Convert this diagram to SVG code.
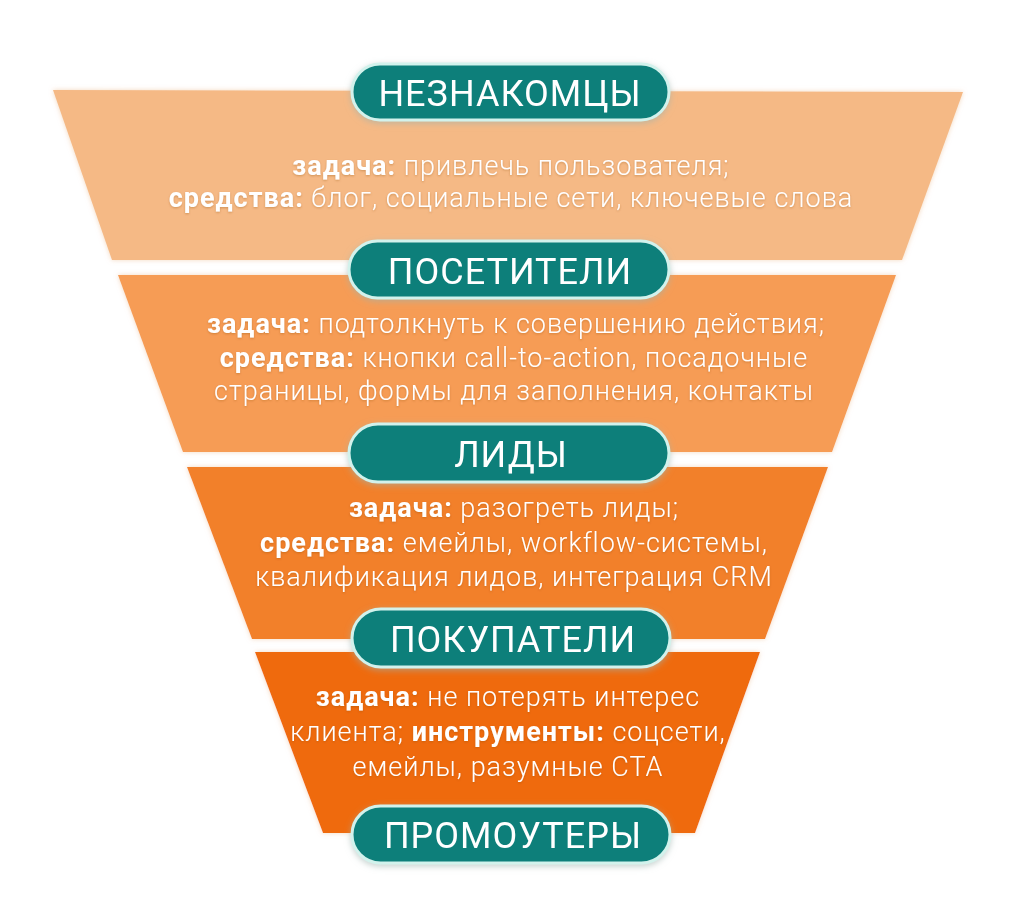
<svg xmlns="http://www.w3.org/2000/svg" width="1024" height="910" viewBox="0 0 1024 910">
<defs>
<style>
.pill{fill:#0f7f7a;stroke:#d2f2ec;stroke-width:3}
.ttl{font-family:Roboto,"Liberation Sans",sans-serif;font-size:36px;fill:#ffffff;text-anchor:middle;letter-spacing:1px}
.txt{font-family:Roboto,"Liberation Sans",sans-serif;font-size:27px;font-weight:300;fill:#ffffff;text-anchor:middle;letter-spacing:1px}
.b{font-weight:700}
</style>
<filter id="sh" x="-10%" y="-20%" width="120%" height="150%">
<feGaussianBlur in="SourceAlpha" stdDeviation="3" result="bl"/>
<feOffset in="bl" dx="0" dy="2" result="o"/>
<feFlood flood-color="#9fb3ae" flood-opacity="0.6" result="f"/>
<feComposite in="f" in2="o" operator="in" result="s"/>
<feMerge><feMergeNode in="s"/><feMergeNode in="SourceGraphic"/></feMerge>
</filter>
<filter id="gl" x="-5%" y="-10%" width="110%" height="120%">
<feGaussianBlur in="SourceAlpha" stdDeviation="2.5" result="bl"/>
<feFlood flood-color="#f1cfae" flood-opacity="0.8" result="f"/>
<feComposite in="f" in2="bl" operator="in" result="s"/>
<feMerge><feMergeNode in="s"/><feMergeNode in="SourceGraphic"/></feMerge>
</filter>
<filter id="ts" x="-5%" y="-30%" width="110%" height="160%">
<feGaussianBlur in="SourceAlpha" stdDeviation="1" result="bl"/>
<feOffset in="bl" dx="0" dy="1" result="o"/>
<feFlood flood-color="#8a4a10" flood-opacity="0.35" result="f"/>
<feComposite in="f" in2="o" operator="in" result="s"/>
<feMerge><feMergeNode in="s"/><feMergeNode in="SourceGraphic"/></feMerge>
</filter>
</defs>
<rect width="1024" height="910" fill="#ffffff"/>
<g id="level1">
<polygon points="53,90 963,92 902,260 112,260" fill="#f5b985" filter="url(#gl)"/>
<g filter="url(#ts)">
<text class="txt" x="511" y="175"><tspan class="b">задача:</tspan> привлечь пользователя;</text>
<text class="txt" x="511" y="207"><tspan class="b">средства:</tspan> блог, социальные сети, ключевые слова</text>
</g>
</g>
<g id="level2">
<polygon points="118,275 896,275 832,452 183,452" fill="#f69c54" filter="url(#gl)"/>
<g filter="url(#ts)">
<text class="txt" x="516" y="333"><tspan class="b">задача:</tspan> подтолкнуть к совершению действия;</text>
<text class="txt" x="514" y="367"><tspan class="b">средства:</tspan> кнопки call-to-action, посадочные</text>
<text class="txt" x="514" y="400">страницы, формы для заполнения, контакты</text>
</g>
</g>
<g id="level3">
<polygon points="187,467 828,467 765,639 252,639" fill="#f2802a" filter="url(#gl)"/>
<g filter="url(#ts)">
<text class="txt" x="514" y="517"><tspan class="b">задача:</tspan> разогреть лиды;</text>
<text class="txt" x="514" y="552"><tspan class="b">средства:</tspan> емейлы, workflow-системы,</text>
<text class="txt" x="514" y="586">квалификация лидов, интеграция CRM</text>
</g>
</g>
<g id="level4">
<polygon points="255,652 760,652 695,833 323,833" fill="#ef6a0a" filter="url(#gl)"/>
<g filter="url(#ts)">
<text class="txt" x="508" y="706"><tspan class="b">задача:</tspan> не потерять интерес</text>
<text class="txt" x="508" y="741">клиента; <tspan class="b">инструменты:</tspan> соцсети,</text>
<text class="txt" x="508" y="776">емейлы, разумные CTA</text>
</g>
</g>
<g id="pill-strangers" filter="url(#sh)">
<rect class="pill" x="352" y="64" width="317" height="56" rx="28"/>
<text class="ttl" x="510" y="106">НЕЗНАКОМЦЫ</text>
</g>
<g id="pill-visitors" filter="url(#sh)">
<rect class="pill" x="349" y="241" width="320" height="57" rx="28.5"/>
<text class="ttl" x="510" y="284">ПОСЕТИТЕЛИ</text>
</g>
<g id="pill-leads" filter="url(#sh)">
<rect class="pill" x="349" y="424" width="320" height="58" rx="29"/>
<text class="ttl" x="511" y="467">ЛИДЫ</text>
</g>
<g id="pill-buyers" filter="url(#sh)">
<rect class="pill" x="352" y="609" width="318" height="58" rx="29"/>
<text class="ttl" x="513" y="652">ПОКУПАТЕЛИ</text>
</g>
<g id="pill-promoters" filter="url(#sh)">
<rect class="pill" x="352" y="806" width="318" height="57" rx="28.5"/>
<text class="ttl" x="513" y="848">ПРОМОУТЕРЫ</text>
</g>
<g id="connectors"/>
</svg>
